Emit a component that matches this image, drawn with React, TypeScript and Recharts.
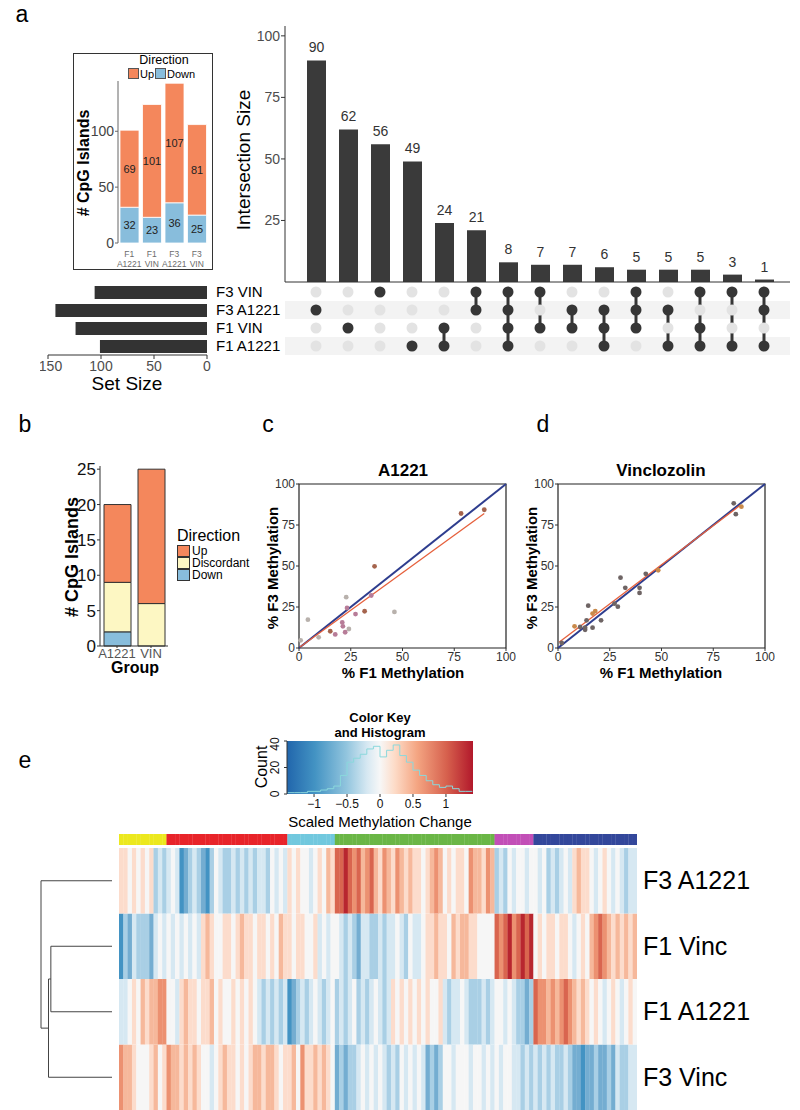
import React from 'react';
import {
  BarChart, Bar, XAxis, YAxis, LabelList, ComposedChart, Scatter, ScatterChart,
  ReferenceArea, ReferenceLine, Line,
} from 'recharts';

const FONT = '"Liberation Sans", Arial, Helvetica, sans-serif';

// ---------- Panel a: UpSet ----------
const SET_NAMES = ['F3 VIN', 'F3 A1221', 'F1 VIN', 'F1 A1221'];
const SET_SIZES = [106, 143, 124, 101];
const INTERSECT_SIZES = [90, 62, 56, 49, 24, 21, 8, 7, 7, 6, 5, 5, 5, 3, 1];
const INTERSECT_MEMBERS = [
  [1], [2], [0], [3], [2, 3], [0, 1], [0, 1, 2, 3], [0, 2], [1, 2], [1, 2, 3],
  [0, 1, 2], [1, 3], [0, 2, 3], [0, 3], [0, 1, 3],
];
const INTERSECT_TICKS = [0, 25, 50, 75, 100];
const SETSIZE_TICKS = [0, 50, 100, 150];

// inset
const INSET_GROUPS = ['F1 A1221', 'F1 VIN', 'F3 A1221', 'F3 VIN'];
const INSET_UP = [69, 101, 107, 81];
const INSET_DOWN = [32, 23, 36, 25];
const INSET_TICKS = [0, 50, 100];

// ---------- Panel b ----------
const B_GROUPS = ['A1221', 'VIN'];
const B_UP = [11, 19];
const B_DISC = [7, 6];
const B_DOWN = [2, 0];
const B_TICKS = [0, 5, 10, 15, 20, 25];

// ---------- Panel c / d ----------
const C_F1 = [78.3, 89.5, 36.5, 22.8, 23.2, 4.3, 46.1, 31.7, 27.3, 34.9, 20.9, 21.2, 24.1, 22.3, 15.1, 17.5, 9.5, 0.8];
const C_F3 = [82, 84.3, 49.8, 31, 24.4, 17.3, 22, 22.4, 20.7, 32, 15.6, 13.2, 11.6, 9.6, 10.2, 8.3, 6.5, 4.7];
const C_GRP = [0, 0, 0, 2, 1, 2, 2, 0, 1, 1, 1, 1, 2, 1, 0, 1, 2, 2];
const C_FIT = [[0.5, 0.6], [89.5, 82]];
const D_F1 = [84.9, 88.6, 85.9, 48.4, 42.4, 30.2, 32.5, 39.4, 39.4, 14.6, 27.3, 28.9, 18, 16.7, 20.8, 13.8, 8, 10.7, 13.1, 13.1, 16.7, 1.8];
const D_F3 = [88.2, 86.2, 81.6, 47.4, 45.2, 42.9, 36.7, 36.7, 33.6, 25.8, 27, 25.2, 22.5, 21, 16.9, 16.9, 13.2, 12.8, 12.4, 11.1, 12.4, 3.1];
const D_GRP = [0, 1, 0, 1, 0, 0, 0, 0, 0, 0, 0, 0, 1, 1, 0, 0, 1, 0, 0, 0, 0, 0];
const D_FIT = [[0.5, 3.5], [88, 87]];
const PCT_TICKS = [0, 25, 50, 75, 100];

// ---------- Panel e: colour key histogram ----------
const HIST_X = [-1.4, -1.3, -1.2, -1.1, -1.0, -0.9, -0.8, -0.7, -0.6, -0.5, -0.4, -0.3, -0.2, -0.1, 0, 0.1, 0.2, 0.3, 0.4, 0.5, 0.6, 0.7, 0.8, 0.9, 1.0, 1.1, 1.2, 1.3, 1.4];
const HIST_COUNT = [1, 1, 1, 2, 2, 3, 4, 6, 14, 24, 27, 30, 34, 36, 28, 33, 37, 29, 24, 18, 14, 10, 7, 5, 6, 4, 2, 2, 2];
const KEY_TICKS = [-1, -0.5, 0, 0.5, 1];
const COUNT_TICKS = [0, 20, 40];

// ---------- Panel e: heatmap ----------
const HEAT_ROWS = ['F3 A1221', 'F1 Vinc', 'F1 A1221', 'F3 Vinc'];
const GROUP_SIZES = [11, 28, 11, 37, 9, 24];
const HEAT_F3_A1221 = [
  1, 1, 0, 1, 0, 1, 0, 1, -2, -1, -2,
  -1, 0, -1, -4, -3, -2, -1, -2, -3, -4, -2, 0, -1, -2, -2, -1, -2, -1, -2, -1, -2, -1, -1, -2, 0, -1, 0, -1,
  1, 0, 1, 0, 0, -1, 0, 1, 0, 2, 1,
  4, 4, 5, 4, 3, 4, 2, 3, 4, 2, 1, 3, 2, 1, 3, 2, 1, 2, 1, 1, 0, 1, 2, 3, 2, 0, 1, 0, 1, 1, 0, 3, 2, 2, 1, 3, 2,
  -2, -1, -2, 0, -1, 0, 0, -1, 0,
  0, -1, 0, -2, -1, -2, -1, 0, -1, 1, 2, 1, 1, 0, -1, 0, 1, 0, -1, 0, -1, -2, -1, -1,
];
const HEAT_F1_VINC = [
  -4, -2, -3, -1, -2, -2, -2, -3, -1, 0, -1,
  0, -1, 0, -1, 0, -1, 0, -1, 1, 2, 1, 0, 0, 1, 1, 0, 1, 2, 1, 1, 0, 1, 1, 0, 1, 0, 2, 1,
  1, 0, 1, 1, 0, 0, 1, -1, 0, -1, 0,
  0, -1, -2, -1, -2, -3, -1, -1, -2, -2, -1, -2, -1, -1, 0, -1, -2, 0, -1, -1, 0, 1, 1, 2, 1, 1, 0, 2, 1, 2, 2, 1, 1, 0, 0, 0, 0,
  4, 3, 4, 5, 3, 4, 5, 4, 5,
  0, 1, 0, 1, 1, 0, 1, 1, 0, -1, 0, 1, 0, 2, 3, 4, 3, 2, 1, 2, 1, 2, 1, 2,
];
const HEAT_F1_A1221 = [
  -1, -1, 0, 1, 0, 2, 1, 2, 2, 3, 3,
  0, 0, -1, 1, 2, 1, 1, 0, 1, 1, 2, 0, 1, 0, 0, 1, 0, 1, 0, 1, 0, -1, -2, -1, -2, -1, -2, -1,
  -4, -3, -2, -1, -2, -1, 0, -1, -2, -1, 0,
  -2, -1, -2, -1, 0, -2, -1, -2, -1, 0, -1, -2, -1, 1, 0, 1, 0, 1, 0, 1, 0, 1, 0, 0, 1, -1, -2, -1, -1, 0, -1, -2, -2, -2, -1, -2, -1,
  0, 0, -1, 0, -1, -2, -2, -3, -2,
  4, 3, 3, 2, 3, 2, 3, 4, 3, 2, 1, 2, 1, 0, 1, 0, -1, 0, 1, 0, -1, 0, 1, 0,
];
const HEAT_F3_VINC = [
  3, 2, 2, 1, 0, 0, 0, 1, 2, 0, 1,
  3, 2, 2, 1, 2, 1, 2, 1, 0, 0, -1, 0, 1, 2, 1, 1, 0, 1, 0, 1, 2, 2, 1, 2, 2, 1, 0, 1,
  1, 2, 0, 3, 1, 1, 2, 1, 2, 1, 0,
  -3, -2, -3, -2, -2, -1, 0, -1, 0, -1, 0, -1, -2, -1, -2, 0, -1, 0, -1, 0, -1, -3, -2, -3, -2, 0, 0, -1, 0, 0, 0, -1, 0, 0, -1, 0, -1,
  0, -1, 0, 0, -1, -1, -2, -1, -2,
  -1, -2, -1, -2, -1, -2, -2, -1, -2, -3, -3, -4, -3, -3, -2, -3, -3, -2, -3, -1, -2, -2, -1, -1,
];
// dendrogram: leaves are row indices; merges reference leaves (>=0) or earlier merges (-(k+1))
const DENDRO_MERGES = [
  { a: 1, b: 2, h: 2.61 },
  { a: -1, b: 3, h: 2.71 },
  { a: 0, b: -2, h: 3.03 },
];

// ---------- styles ----------
const ORANGE = '#f4875c';
const BLUE = '#88bddc';
const YELLOW = '#fdf7c3';
const DARK = '#363636';
const GROUP_COLORS = ['#ece81e', '#e8242a', '#71c8de', '#6ab646', '#c24fb7', '#33479b'];
const LEVEL_COLORS = ['#2166ac', '#4393c3', '#74add1', '#a9cfe5', '#d6e8f2', '#f6f6f6', '#fcdccc', '#f6b89b', '#ec9171', '#d9654f', '#b8262f'];
const C_COLORS = ['#a5644d', '#b77c98', '#b8b1ac'];
const D_COLORS = ['#6e6464', '#c98a4a'];
const levelColor = (v: number) => LEVEL_COLORS[Math.max(-5, Math.min(5, v)) + 5];

const Abs = ({ x, y, children }: any) => (
  <div style={{ position: 'absolute', left: x, top: y }}>{children}</div>
);
const Txt = ({ x, y, size = 14, bold = false, rot = false, color = '#000', left = false, children }: any) => (
  <div
    style={{
      position: 'absolute', left: x, top: y,
      transform: `translate(${left ? '0' : '-50%'},-50%)${rot ? ' rotate(-90deg)' : ''}`,
      fontSize: size, fontWeight: bold ? 700 : 400, color, whiteSpace: 'nowrap',
      fontFamily: FONT, lineHeight: 1,
    }}
  >
    {children}
  </div>
);

const InsetTick = ({ x, y, payload }: any) => {
  const [a, b] = String(payload.value).split(' ');
  return (
    <text x={x} y={y + 6} textAnchor="middle" fontSize={8.5} fill="#6b6b6b" fontFamily={FONT}>
      <tspan x={x}>{a}</tspan>
      <tspan x={x} dy={9.5}>{b}</tspan>
    </text>
  );
};

const RotTick = ({ x, y, payload }: any) => (
  <text x={x - 3} y={y} transform={`rotate(-90 ${x - 3} ${y})`} textAnchor="middle" fontSize={12} fill="#111" fontFamily={FONT}>
    {payload.value}
  </text>
);

const minusFmt = (v: number) => (v < 0 ? `\u2212${Math.abs(v)}` : String(v));

function ScatterPanel({ left, f1, f3, grp, colors, fit }: any) {
  const pts = f1.map((x: number, i: number) => ({ x, y: f3[i], g: grp[i] }));
  return (
    <Abs x={left} y={474}>
      <ScatterChart width={252} height={196} margin={{ top: 10, right: 10, bottom: 0, left: 0 }}>
        <XAxis type="number" dataKey="x" domain={[0, 100]} ticks={PCT_TICKS} height={22}
          tick={{ fontSize: 12, fill: '#333', fontFamily: FONT }} tickSize={3} tickMargin={1}
          axisLine={false} tickLine={{ stroke: '#333' }} />
        <YAxis type="number" dataKey="y" domain={[0, 100]} ticks={PCT_TICKS} width={35}
          tick={{ fontSize: 12, fill: '#333', fontFamily: FONT }} tickSize={3} tickMargin={1}
          axisLine={false} tickLine={{ stroke: '#333' }} />
        <ReferenceArea x1={0} x2={100} y1={0} y2={100} fill="#fff" fillOpacity={0} stroke="#222" strokeWidth={1.2} />
        <ReferenceLine segment={[{ x: 0, y: 0 }, { x: 100, y: 100 }]} stroke="#2e3d8e" strokeWidth={2} />
        <ReferenceLine segment={[{ x: fit[0][0], y: fit[0][1] }, { x: fit[1][0], y: fit[1][1] }]} stroke="#e6603c" strokeWidth={1.3} />
        <Scatter data={pts} isAnimationActive={false}
          shape={(p: any) => <circle cx={p.cx} cy={p.cy} r={2.4} fill={colors[p.payload.g]} />} />
      </ScatterChart>
    </Abs>
  );
}

export default function App() {
  const upsetData = INTERSECT_SIZES.map((v, i) => ({ id: `c${i}`, size: v }));
  const matrixPts = INTERSECT_MEMBERS.flatMap((m, i) =>
    SET_NAMES.map((_, r) => ({ x: i, y: r, on: m.includes(r) })));
  const connectors = INTERSECT_MEMBERS.filter((m) => m.length > 1).map((m) => {
    const i = INTERSECT_MEMBERS.indexOf(m);
    return [{ x: i, y: Math.min(...m) }, { x: i, y: Math.max(...m) }];
  });
  const setData = SET_NAMES.map((n, i) => ({ name: n, size: SET_SIZES[i] }));
  const insetData = INSET_GROUPS.map((n, i) => ({ name: n, up: INSET_UP[i], down: INSET_DOWN[i] }));
  const bData = B_GROUPS.map((n, i) => ({ name: n, up: B_UP[i], disc: B_DISC[i], down: B_DOWN[i] || null }));
  const histData = HIST_X.map((x, i) => ({ x, count: HIST_COUNT[i] }));

  const N = HEAT_F3_A1221.length;
  const groupOf: number[] = [];
  GROUP_SIZES.forEach((s, g) => { for (let k = 0; k < s; k++) groupOf.push(g); });
  const GAP = 0.046;
  const ANN = 0.168;
  const heatData = Array.from({ length: N }, (_, i) => ({ id: i, r0: 1, r1: 1, r2: 1, r3: 1, gap: GAP, ann: ANN }));
  const heatRowsBottomUp = [
    { key: 'r3', vals: HEAT_F3_VINC },
    { key: 'r2', vals: HEAT_F1_A1221 },
    { key: 'r1', vals: HEAT_F1_VINC },
    { key: 'r0', vals: HEAT_F3_A1221 },
  ];

  // dendrogram link paths
  const nodes: { y: number; h: number }[] = [];
  const pos = (ref: number) => (ref >= 0 ? { y: ref, h: 0 } : nodes[-ref - 1]);
  const links = DENDRO_MERGES.map((m) => {
    const A = pos(m.a);
    const B = pos(m.b);
    nodes.push({ y: (A.y + B.y) / 2, h: m.h });
    return [{ h: A.h, y: A.y }, { h: m.h, y: A.y }, { h: m.h, y: B.y }, { h: B.h, y: B.y }];
  });

  return (
    <div style={{ position: 'absolute', left: 0, top: 0, width: 800, height: 1110, background: '#fff', fontFamily: FONT, overflow: 'hidden' }}>
      {/* panel letters */}
      <Txt x={22} y={14} size={23}>a</Txt>
      <Txt x={25} y={424} size={23}>b</Txt>
      <Txt x={268} y={424} size={23}>c</Txt>
      <Txt x={543} y={424} size={23}>d</Txt>
      <Txt x={25} y={760} size={23}>e</Txt>

      {/* ---- inset ---- */}
      <div style={{ position: 'absolute', left: 73, top: 53, width: 138, height: 215, border: '1.5px solid #333' }} />
      <Txt x={164} y={60} size={12.5}>Direction</Txt>
      <div style={{ position: 'absolute', left: 128, top: 68, width: 9, height: 9, background: ORANGE, border: '1px solid #555' }} />
      <Txt x={140} y={73.5} size={11} left>Up</Txt>
      <div style={{ position: 'absolute', left: 155, top: 68, width: 9, height: 9, background: BLUE, border: '1px solid #555' }} />
      <Txt x={167} y={73.5} size={11} left>Down</Txt>
      <Txt x={84} y={163} size={16} bold rot>{'# CpG Islands'}</Txt>
      <Abs x={75} y={75}>
        <BarChart width={136} height={195} data={insetData} margin={{ top: 6, right: 3, bottom: 0, left: 0 }} barCategoryGap={2}>
          <XAxis dataKey="name" height={27} tick={<InsetTick />} tickLine={false} axisLine={false} interval={0} />
          <YAxis width={43} domain={[0, 145]} ticks={INSET_TICKS} tick={{ fontSize: 14, fill: '#444', fontFamily: FONT }}
            tickSize={3} tickMargin={1} axisLine={{ stroke: '#666' }} tickLine={{ stroke: '#666' }} />
          <Bar dataKey="down" stackId="s" fill={BLUE} stroke="#fff" strokeWidth={0.8} isAnimationActive={false}>
            <LabelList dataKey="down" position="center" fontSize={11} fill="#222" fontFamily={FONT} />
          </Bar>
          <Bar dataKey="up" stackId="s" fill={ORANGE} stroke="#fff" strokeWidth={0.8} isAnimationActive={false}>
            <LabelList dataKey="up" position="center" fontSize={11} fill="#222" fontFamily={FONT} />
          </Bar>
        </BarChart>
      </Abs>

      {/* ---- UpSet intersection bars ---- */}
      <Txt x={243} y={160} size={19} rot>Intersection Size</Txt>
      <Abs x={220} y={10}>
        <BarChart width={575} height={273} data={upsetData} margin={{ top: 16, right: 5, bottom: 0, left: 5 }}>
          <XAxis dataKey="id" height={1} tick={false} tickLine={false} axisLine={{ stroke: '#333' }} padding={{ left: 15, right: 10 }} />
          <YAxis width={60} domain={[0, 104]} ticks={INTERSECT_TICKS} tick={{ fontSize: 14, fill: '#4d4d4d', fontFamily: FONT }}
            tickSize={4} tickMargin={1} axisLine={{ stroke: '#333' }} tickLine={{ stroke: '#333' }} />
          <Bar dataKey="size" fill="#3a3a3a" barSize={19} isAnimationActive={false}>
            <LabelList dataKey="size" position="top" offset={8} fontSize={14} fill="#333" fontFamily={FONT} />
          </Bar>
        </BarChart>
      </Abs>

      {/* ---- UpSet matrix ---- */}
      <Abs x={285} y={283}>
        <ScatterChart width={505} height={72} margin={{ top: 0, right: 0, bottom: 0, left: 0 }}>
          <XAxis type="number" dataKey="x" domain={[-0.96875, 14.8125]} hide />
          <YAxis type="number" dataKey="y" domain={[-0.5, 3.5]} reversed hide />
          <ReferenceArea y1={0.5} y2={1.5} fill="#f3f3f3" fillOpacity={1} stroke="none" />
          <ReferenceArea y1={2.5} y2={3.5} fill="#f3f3f3" fillOpacity={1} stroke="none" />
          {connectors.map((seg, k) => (
            <Scatter key={`l${k}`} data={seg} line={{ stroke: DARK, strokeWidth: 3 }} shape={() => <g />} isAnimationActive={false} />
          ))}
          <Scatter data={matrixPts} isAnimationActive={false}
            shape={(p: any) => <circle cx={p.cx} cy={p.cy} r={5.5} fill={p.payload.on ? DARK : '#e3e3e3'} />} />
        </ScatterChart>
      </Abs>

      {/* ---- set size ---- */}
      <Abs x={40} y={283}>
        <BarChart layout="vertical" width={247} height={102} data={setData} margin={{ top: 0, right: 0, bottom: 0, left: 8 }}>
          <XAxis type="number" domain={[0, 150]} reversed ticks={SETSIZE_TICKS} height={30}
            tick={{ fontSize: 14, fill: '#4d4d4d', fontFamily: FONT }} tickSize={4} tickMargin={2}
            axisLine={{ stroke: '#333' }} tickLine={{ stroke: '#333' }} />
          <YAxis type="category" dataKey="name" orientation="right" width={80} axisLine={false} tickLine={false}
            interval={0} tickSize={6} tickMargin={3} tick={{ fontSize: 15, fill: '#000', fontFamily: FONT }} />
          <Bar dataKey="size" fill="#333" barSize={13} isAnimationActive={false} />
        </BarChart>
      </Abs>
      <Txt x={127} y={383} size={19}>Set Size</Txt>

      {/* ---- panel b ---- */}
      <Txt x={72} y={557} size={18} bold rot>{'# CpG Islands'}</Txt>
      <Abs x={30} y={456}>
        <BarChart width={140} height={208} data={bData} margin={{ top: 10, right: 2, bottom: 0, left: 0 }} barCategoryGap={4}>
          <XAxis dataKey="name" height={18} tick={{ fontSize: 13, fill: '#555', fontFamily: FONT }} tickSize={2} tickMargin={1}
            axisLine={{ stroke: '#333' }} tickLine={{ stroke: '#333' }} interval={0} />
          <YAxis width={70} domain={[0, 25.45]} ticks={B_TICKS} tick={{ fontSize: 17, fill: '#111', fontFamily: FONT }}
            tickSize={3} tickMargin={1} axisLine={{ stroke: '#333' }} tickLine={{ stroke: '#333' }} />
          <Bar dataKey="down" stackId="s" fill={BLUE} stroke="#333" strokeWidth={1} barSize={27} isAnimationActive={false} />
          <Bar dataKey="disc" stackId="s" fill={YELLOW} stroke="#333" strokeWidth={1} barSize={27} isAnimationActive={false} />
          <Bar dataKey="up" stackId="s" fill={ORANGE} stroke="#333" strokeWidth={1} barSize={27} isAnimationActive={false} />
        </BarChart>
      </Abs>
      <Txt x={135} y={668} size={16} bold>Group</Txt>
      <Txt x={177} y={536} size={16} left>Direction</Txt>
      <div style={{ position: 'absolute', left: 177, top: 545, width: 11, height: 10, background: ORANGE, border: '1px solid #333' }} />
      <div style={{ position: 'absolute', left: 177, top: 557, width: 11, height: 10, background: YELLOW, border: '1px solid #333' }} />
      <div style={{ position: 'absolute', left: 177, top: 569, width: 11, height: 10, background: BLUE, border: '1px solid #333' }} />
      <Txt x={192} y={551} size={12} left>Up</Txt>
      <Txt x={192} y={563} size={12} left>Discordant</Txt>
      <Txt x={192} y={575} size={12} left>Down</Txt>

      {/* ---- panels c, d ---- */}
      <Txt x={403} y={470} size={17} bold>A1221</Txt>
      <Txt x={272} y={568} size={15} bold rot>% F3 Methylation</Txt>
      <Txt x={403} y={672} size={15} bold>% F1 Methylation</Txt>
      <ScatterPanel left={264} f1={C_F1} f3={C_F3} grp={C_GRP} colors={C_COLORS} fit={C_FIT} />

      <Txt x={661} y={470} size={17} bold>Vinclozolin</Txt>
      <Txt x={531} y={568} size={15} bold rot>% F3 Methylation</Txt>
      <Txt x={661} y={672} size={15} bold>% F1 Methylation</Txt>
      <ScatterPanel left={523} f1={D_F1} f3={D_F3} grp={D_GRP} colors={D_COLORS} fit={D_FIT} />

      {/* ---- colour key ---- */}
      <Txt x={380} y={717} size={13} bold>Color Key</Txt>
      <Txt x={380} y={732} size={13} bold>and Histogram</Txt>
      <Txt x={262} y={767} size={16} rot>Count</Txt>
      <Abs x={230} y={735}>
        <ComposedChart width={248} height={78} data={histData} margin={{ top: 6, right: 5, bottom: 0, left: 0 }}>
          <defs>
            <linearGradient id="rdbu" x1="0" y1="0" x2="1" y2="0">
              <stop offset="0%" stopColor="#2166ac" />
              <stop offset="15%" stopColor="#4393c3" />
              <stop offset="32%" stopColor="#92c5de" />
              <stop offset="43%" stopColor="#d6e8f2" />
              <stop offset="50%" stopColor="#f7f7f7" />
              <stop offset="58%" stopColor="#fddbc7" />
              <stop offset="70%" stopColor="#f4a582" />
              <stop offset="86%" stopColor="#d6604d" />
              <stop offset="100%" stopColor="#b2182b" />
            </linearGradient>
          </defs>
          <XAxis type="number" dataKey="x" domain={[-1.41, 1.41]} ticks={KEY_TICKS} height={19} allowDataOverflow
            tick={{ fontSize: 12, fill: '#111', fontFamily: FONT }} tickFormatter={minusFmt} tickSize={3} tickMargin={2}
            axisLine={false} tickLine={{ stroke: '#333' }} />
          <YAxis domain={[0, 40]} ticks={COUNT_TICKS} width={57} tick={<RotTick />} tickSize={3}
            axisLine={{ stroke: '#333' }} tickLine={{ stroke: '#333' }} />
          <ReferenceArea x1={-1.41} x2={1.41} y1={0} y2={40} fill="url(#rdbu)" fillOpacity={1} stroke="none" />
          <Line dataKey="count" type="stepAfter" stroke="#8ad8dc" strokeWidth={1} dot={false} isAnimationActive={false} />
        </ComposedChart>
      </Abs>
      <Txt x={380} y={821} size={15}>Scaled Methylation Change</Txt>

      {/* ---- heatmap ---- */}
      <Abs x={119} y={834}>
        <BarChart width={518} height={276} data={heatData} margin={{ top: 0, right: 0, bottom: 0, left: 0 }} barCategoryGap={0} barGap={0}>
          <XAxis dataKey="id" hide />
          <YAxis type="number" hide domain={[0, 4 + GAP + ANN]} />
          {heatRowsBottomUp.map((row) => (
            <Bar key={row.key} dataKey={row.key} stackId="h" isAnimationActive={false}
              shape={(p: any) => {
                const c = levelColor(row.vals[p.index]);
                return <rect x={p.x} y={p.y} width={p.width + 0.6} height={p.height} fill={c} />;
              }} />
          ))}
          <Bar dataKey="gap" stackId="h" isAnimationActive={false} shape={() => <g />} />
          <Bar dataKey="ann" stackId="h" isAnimationActive={false}
            shape={(p: any) => <rect x={p.x} y={p.y} width={p.width + 0.6} height={p.height} fill={GROUP_COLORS[groupOf[p.index]]} />} />
        </BarChart>
      </Abs>
      {HEAT_ROWS.map((r, i) => (
        <Txt key={r} x={643} y={880 + i * 65.5} size={25} left>{r}</Txt>
      ))}

      {/* dendrogram */}
      <Abs x={30} y={848}>
        <ScatterChart width={82} height={262} margin={{ top: 0, right: 0, bottom: 0, left: 0 }}>
          <XAxis type="number" dataKey="h" domain={[0, 3.5]} reversed hide />
          <YAxis type="number" dataKey="y" domain={[-0.5, 3.5]} reversed hide />
          {links.map((pts, k) => (
            <Scatter key={k} data={pts} line={{ stroke: '#444', strokeWidth: 1 }} shape={() => <g />} isAnimationActive={false} />
          ))}
        </ScatterChart>
      </Abs>
    </div>
  );
}
